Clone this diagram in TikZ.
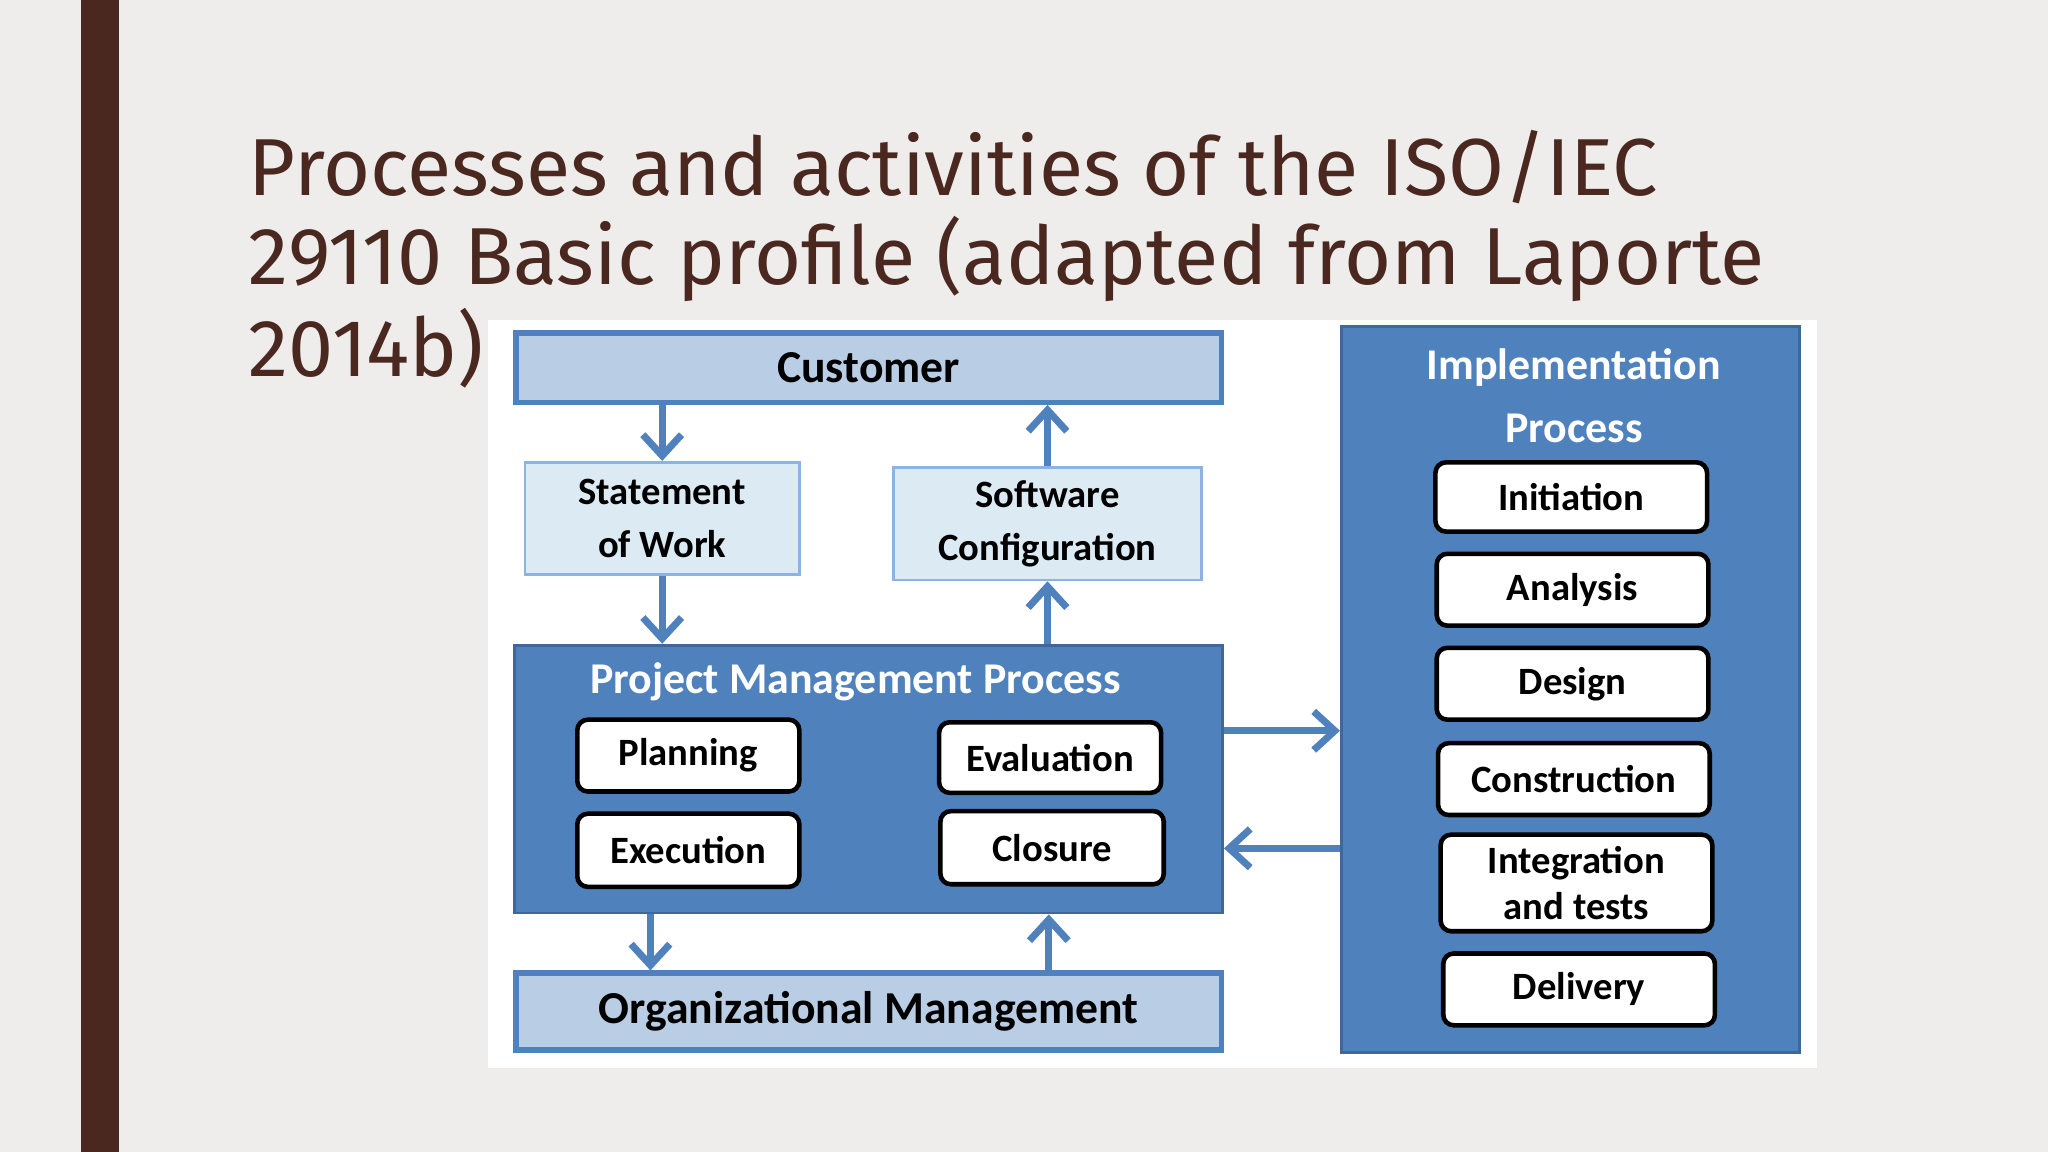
\documentclass[tikz,border=0pt]{standalone}
\usepackage{fontspec}
\setmainfont{Carlito}
\newfontfamily\titlefont{Fira Sans}
\usetikzlibrary{arrows.meta}
\definecolor{bg}{HTML}{EEEDEC}
\definecolor{brown}{HTML}{4A2820}
\definecolor{mblue}{HTML}{4F81BD}
\definecolor{lblue}{HTML}{B9CDE5}
\definecolor{pblue}{HTML}{DCEAF4}
\definecolor{eblue}{HTML}{8DB3E2}
\tikzset{
  px/.style={x=0.013061cm,y=-0.013061cm},
  lbox/.style={draw=mblue,line width=1.5pt,fill=lblue,font=\bfseries\fontsize{13}{15}\selectfont},
  pbox/.style={draw=eblue,line width=0.8pt,fill=pblue,align=center,font=\bfseries\fontsize{11}{15}\selectfont},
  bigbox/.style={draw=mblue!80!black,line width=0.8pt,fill=mblue},
  wbox/.style={draw=black,line width=1.3pt,fill=white,rounded corners=3pt,align=center,font=\bfseries\fontsize{11}{13}\selectfont},
  arr/.style={draw=mblue,line width=2pt,-{Straight Barb[length=6pt,width=11pt]}},
  wtitle/.style={text=white,font=\bfseries\fontsize{12.5}{18}\selectfont,align=center}
}
\begin{document}
\begin{tikzpicture}[px]
\fill[bg] (0,0) rectangle (1568,882);
\useasboundingbox (0,0) rectangle (1568,882);
\fill[brown] (62,0) rectangle (91,882);
\node[anchor=base west,inner sep=0,text=brown,font=\titlefont\fontsize{23}{28}\selectfont] (t1) at (190,150) {Processes and activities of the ISO/IEC};
\node[anchor=base west,inner sep=0,text=brown,font=\titlefont\fontsize{23}{28}\selectfont] (t2) at (190,218) {29110 Basic profile (adapted from Laporte};
\node[anchor=base west,inner sep=0,text=brown,font=\titlefont\fontsize{23}{28}\selectfont] (t3) at (190,288) {2014b)};
\fill[white] (374,245) rectangle (1391,818);
% boxes
\node[lbox,minimum width=540*0.013061cm,minimum height=53*0.013061cm] (cust) at (665,281.5) {Customer};
\node[pbox,minimum width=210*0.013061cm,minimum height=86*0.013061cm] (sow) at (507,397) {Statement\\of Work};
\node[pbox,minimum width=236*0.013061cm,minimum height=86*0.013061cm] (sc) at (802,401) {Software\\Configuration};
\node[bigbox,minimum width=542*0.013061cm,minimum height=205*0.013061cm] (pm) at (665,596.5) {};
\node[wtitle,anchor=center] (pmt) at (655,522) {Project Management Process};
\node[wbox,minimum width=170*0.013061cm,minimum height=55*0.013061cm] (plan) at (527,578.5) {Planning};
\node[wbox,minimum width=170*0.013061cm,minimum height=54*0.013061cm] (eval) at (804,580) {Evaluation};
\node[wbox,minimum width=170*0.013061cm,minimum height=56*0.013061cm] (exec) at (527,651) {Execution};
\node[wbox,minimum width=171*0.013061cm,minimum height=56*0.013061cm] (clos) at (805.5,649) {Closure};
\node[lbox,minimum width=540*0.013061cm,minimum height=59*0.013061cm] (org) at (665,774.5) {Organizational Management};
\node[bigbox,minimum width=351*0.013061cm,minimum height=556*0.013061cm] (impl) at (1202.5,528) {};
\node[wtitle] (implt) at (1205,303) {Implementation\\Process};
\node[wbox,minimum width=208*0.013061cm,minimum height=53*0.013061cm] (ini) at (1203,380.5) {Initiation};
\node[wbox,minimum width=208*0.013061cm,minimum height=55*0.013061cm] (ana) at (1204,451.5) {Analysis};
\node[wbox,minimum width=208*0.013061cm,minimum height=55*0.013061cm] (des) at (1204,523.5) {Design};
\node[wbox,minimum width=208*0.013061cm,minimum height=55*0.013061cm] (con) at (1205,596.5) {Construction};
\node[wbox,minimum width=208*0.013061cm,minimum height=68*0.013061cm] (int) at (1207,676) {Integration\\and tests};
\node[wbox,minimum width=208*0.013061cm,minimum height=55*0.013061cm] (del) at (1209,757.5) {Delivery};
% arrows
\draw[arr] (cust.south -| sow) -- (sow.north);
\draw[arr] (sow.south) -- (sow.south |- pm.north);
\draw[arr] (pm.north -| sc) -- (sc.south);
\draw[arr] (sc.north) -- (sc.north |- cust.south);
\draw[arr] ([xshift=-167*0.013061cm]pm.south) -- ([xshift=-167*0.013061cm]org.north);
\draw[arr] ([xshift=138*0.013061cm]org.north) -- ([xshift=138*0.013061cm]pm.south);
\draw[arr] ([yshift=37*0.013061cm]pm.east) -- ([yshift=37*0.013061cm]pm.east -| impl.west);
\draw[arr] ([yshift=-53*0.013061cm]pm.east -| impl.west) -- ([yshift=-53*0.013061cm]pm.east);
\end{tikzpicture}
\end{document}
